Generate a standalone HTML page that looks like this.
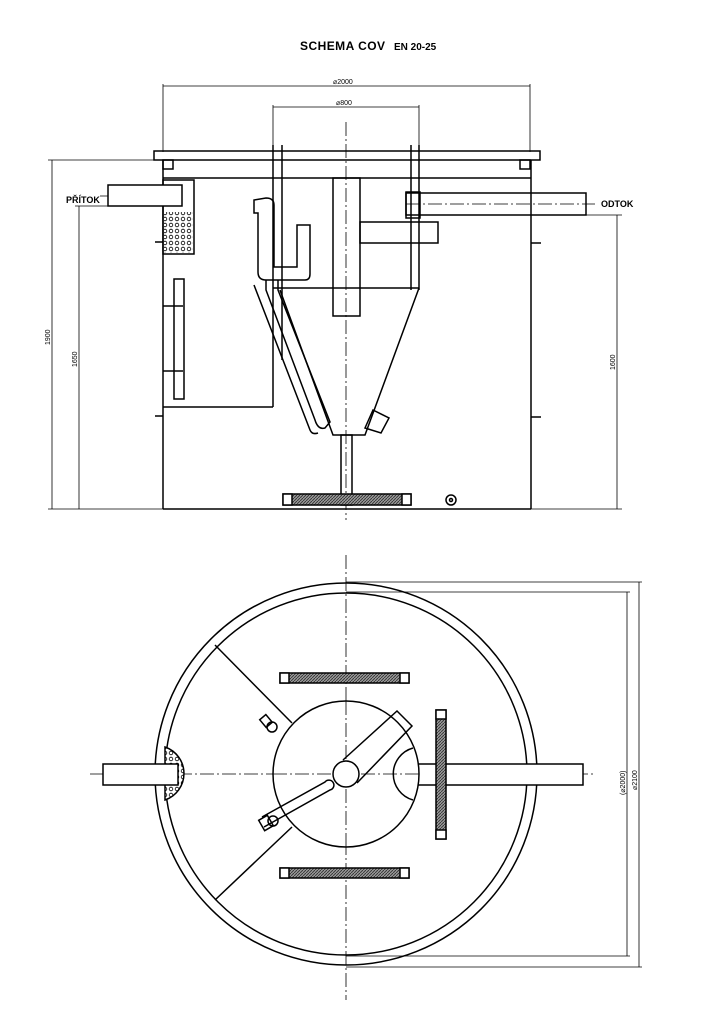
<!DOCTYPE html>
<html><head><meta charset="utf-8"><style>
html,body{margin:0;padding:0;background:#fff}
svg{display:block}
text{font-family:"Liberation Sans",sans-serif;fill:#000}
</style></head><body>
<svg width="724" height="1024" viewBox="0 0 724 1024" xmlns="http://www.w3.org/2000/svg">
<defs>
<pattern id="dots" width="6" height="6" patternUnits="userSpaceOnUse"><rect width="6" height="6" fill="#fff"/><circle cx="3" cy="3" r="1.8" fill="none" stroke="#000" stroke-width="0.8"/></pattern>
<pattern id="hatch" width="3" height="3" patternUnits="userSpaceOnUse"><rect width="3" height="3" fill="#999"/><path d="M0,3L3,0" stroke="#333" stroke-width="0.9"/></pattern>
</defs>
<text x="300" y="50" font-size="12" font-weight="bold" textLength="85">SCHEMA COV</text>
<text x="394" y="50" font-size="10" font-weight="bold">EN 20-25</text>

<g fill="none" stroke="#000" stroke-width="1.5">
<g stroke-width="0.8">
<line x1="163" y1="86" x2="530" y2="86"/><line x1="163" y1="84" x2="163" y2="152"/><line x1="530" y1="84" x2="530" y2="152"/>
<line x1="273" y1="107" x2="419" y2="107"/><line x1="273" y1="105" x2="273" y2="145"/><line x1="419" y1="105" x2="419" y2="145"/>
<line x1="48" y1="160" x2="154" y2="160"/><line x1="52" y1="160" x2="52" y2="509"/>
<line x1="75" y1="206" x2="108" y2="206"/><line x1="79" y1="206" x2="79" y2="509"/>
<line x1="48" y1="509" x2="163" y2="509"/>
<line x1="531" y1="509" x2="622" y2="509"/><line x1="586" y1="215" x2="622" y2="215"/><line x1="617" y1="215" x2="617" y2="509"/>
<line x1="346" y1="122" x2="346" y2="520" stroke-dasharray="14 3 2 3"/>
<line x1="100" y1="196" x2="182" y2="196" stroke-dasharray="14 3 2 3"/>
<line x1="406" y1="204" x2="595" y2="204" stroke-dasharray="14 3 2 3"/>
</g>
<rect x="154" y="151" width="386" height="9"/>
<rect x="163" y="160" width="10" height="9"/><rect x="520" y="160" width="10" height="9"/>
<line x1="163" y1="160" x2="163" y2="509"/><line x1="531" y1="160" x2="531" y2="509"/>
<line x1="163" y1="509" x2="531" y2="509"/>
<line x1="163" y1="178" x2="531" y2="178"/>
<line x1="155" y1="242" x2="163" y2="242"/><line x1="155" y1="416" x2="163" y2="416"/>
<line x1="531" y1="243" x2="541" y2="243"/><line x1="531" y1="417" x2="541" y2="417"/>
<rect x="163" y="180" width="31" height="74"/>
<rect x="164" y="212" width="29" height="41" fill="url(#dots)" stroke="none"/>
<rect x="108" y="185" width="74" height="21" fill="#fff"/>
<line x1="273" y1="145" x2="273" y2="407"/><line x1="163" y1="407" x2="273" y2="407"/>
<line x1="282" y1="145" x2="282" y2="360"/>
<rect x="174" y="279" width="10" height="120"/>
<line x1="163" y1="306" x2="183" y2="306"/><line x1="163" y1="371" x2="183" y2="371"/>
<path d="M254,200 L254,213 L258,213 L258,272 Q258,280 266,280 L305,280 Q310,280 310,274 L310,225 L297,225 L297,267 L274,267 L274,205 Q274,198 266,198 Z"/>
<path d="M266,280 L266,290 L315,420 Q318,430 325,428 L330,422 L278,290 L278,280"/>
<path d="M254,285 L310,430 Q312,435 318,433"/>
<line x1="411" y1="145" x2="411" y2="290"/><line x1="419" y1="145" x2="419" y2="290"/>
<line x1="273" y1="288" x2="419" y2="288"/>
<rect x="333" y="178" width="27" height="138"/>
<path d="M419,288 L365,435 L333,435 L280,290"/>
<path d="M373,410 L389,418 L381,433 L365,428 Z"/>
<rect x="360" y="222" width="78" height="21"/>
<rect x="406" y="192" width="14" height="26"/>
<rect x="406" y="193" width="180" height="22"/>
<rect x="341" y="435" width="11" height="70"/>
<rect x="283" y="494" width="128" height="11" fill="url(#hatch)"/>
<rect x="283" y="494" width="9" height="11" fill="#fff"/><rect x="402" y="494" width="9" height="11" fill="#fff"/>
<circle cx="451" cy="500" r="5"/><circle cx="451" cy="500" r="1.5"/>
</g>
<text x="66" y="203" font-size="9" font-weight="bold">PŘÍTOK</text>
<text x="601" y="207" font-size="9" font-weight="bold">ODTOK</text>
<text x="333" y="84" font-size="7">⌀2000</text>
<text x="336" y="105" font-size="7">⌀800</text>
<text transform="translate(50,345) rotate(-90)" font-size="7">1900</text>
<text transform="translate(77,367) rotate(-90)" font-size="7">1650</text>
<text transform="translate(615,370) rotate(-90)" font-size="7">1600</text>

<g fill="none" stroke="#000" stroke-width="1.5">
<g stroke-width="0.8">
<line x1="346" y1="555" x2="346" y2="1000" stroke-dasharray="14 3 2 3"/>
<line x1="90" y1="774" x2="595" y2="774" stroke-dasharray="14 3 2 3"/>
<line x1="346" y1="582" x2="642" y2="582"/><line x1="346" y1="592" x2="630" y2="592"/>
<line x1="346" y1="967" x2="642" y2="967"/><line x1="346" y1="956" x2="630" y2="956"/>
<line x1="627" y1="592" x2="627" y2="956"/><line x1="639" y1="582" x2="639" y2="967"/>
</g>
<circle cx="346" cy="774" r="191"/>
<circle cx="346" cy="774" r="181"/>
<path d="M165,747 A28,28 0 0 1 165,800 Z" fill="url(#dots)"/>
<rect x="103" y="764" width="75" height="21" fill="#fff"/>
<rect x="417" y="764" width="166" height="21" fill="#fff"/>
<line x1="215" y1="645" x2="292" y2="723"/><line x1="292" y1="827" x2="215" y2="900"/>
<circle cx="346" cy="774" r="73" fill="#fff"/>
<line x1="346" y1="701" x2="346" y2="847" stroke-width="0.8" stroke-dasharray="14 3 2 3"/>
<line x1="273" y1="774" x2="419" y2="774" stroke-width="0.8" stroke-dasharray="14 3 2 3"/>
<circle cx="346" cy="774" r="13" fill="#fff"/>
<path d="M413,748 A27,27 0 0 0 413,800"/>
<path d="M343,760 L397,711 L412,726 L357,783"/>
<path d="M264,827 L330,790 A5,5 0 1 0 325,782 L262,817"/>
<rect x="261" y="817" width="10" height="12" transform="rotate(-30 266 823)"/>
<circle cx="273" cy="821" r="5"/>
<rect x="262" y="716" width="8" height="10" transform="rotate(-40 266 721)"/>
<circle cx="272" cy="727" r="5"/>
<rect x="280" y="673" width="129" height="10" fill="url(#hatch)"/>
<rect x="280" y="673" width="9" height="10" fill="#fff"/><rect x="400" y="673" width="9" height="10" fill="#fff"/>
<rect x="280" y="868" width="129" height="10" fill="url(#hatch)"/>
<rect x="280" y="868" width="9" height="10" fill="#fff"/><rect x="400" y="868" width="9" height="10" fill="#fff"/>
<rect x="436" y="710" width="10" height="129" fill="url(#hatch)"/>
<rect x="436" y="710" width="10" height="9" fill="#fff"/><rect x="436" y="830" width="10" height="9" fill="#fff"/>
</g>
<text transform="translate(625,795) rotate(-90)" font-size="7">(⌀2000)</text>
<text transform="translate(637,790) rotate(-90)" font-size="7">⌀2100</text>
</svg>
</body></html>
